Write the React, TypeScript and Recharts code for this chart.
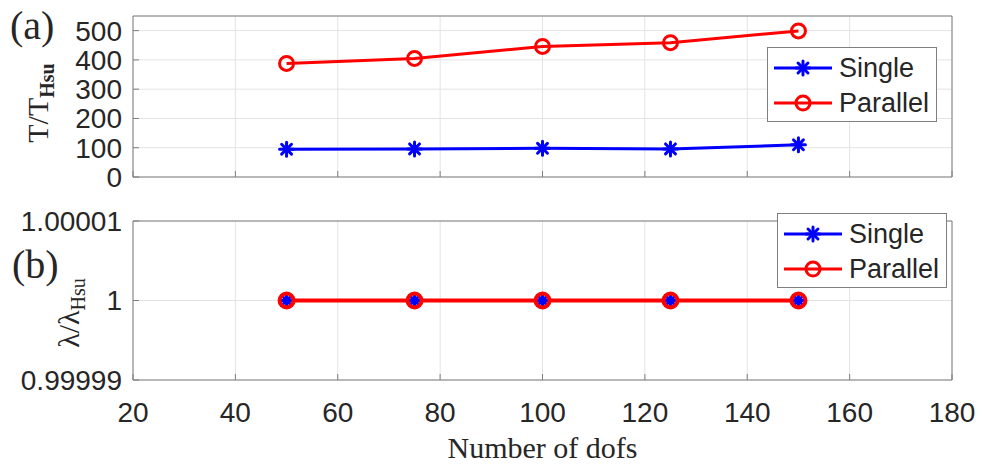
import React from 'react';
import {
  LineChart,
  Line,
  XAxis,
  YAxis,
  CartesianGrid,
  Legend,
  ReferenceArea,
} from 'recharts';

// values
const dofs = [50, 75, 100, 125, 150];
const singleTime = [95, 96, 98, 96, 110];
const parallelTime = [388, 405, 446, 459, 499];
const singleLambda = [1, 1, 1, 1, 1];
const parallelLambda = [1, 1, 1, 1, 1];

const xTicks = [20, 40, 60, 80, 100, 120, 140, 160, 180];
const timeTicks = [0, 100, 200, 300, 400, 500];
const lambdaTicks = [0.99999, 1, 1.00001];

const SANS = '"Liberation Sans", Arial, sans-serif';
const SERIF = '"Liberation Serif", "Times New Roman", serif';
const AXIS = '#7f7f7f';
const GRID = '#e3e3e3';
const TEXT = '#262626';
const BLUE = '#0000ff';
const RED = '#ff0000';

const timeData = dofs.map((d, i) => ({ dofs: d, single: singleTime[i], parallel: parallelTime[i] }));
const lambdaData = dofs.map((d, i) => ({ dofs: d, single: singleLambda[i], parallel: parallelLambda[i] }));

const Star = ({ cx, cy, r = 7, sw = 3 }: any) => {
  const d = r * 0.707;
  return (
    <g stroke={BLUE} strokeWidth={sw} strokeLinecap="round">
      <line x1={cx - r} y1={cy} x2={cx + r} y2={cy} />
      <line x1={cx} y1={cy - r} x2={cx} y2={cy + r} />
      <line x1={cx - d} y1={cy - d} x2={cx + d} y2={cy + d} />
      <line x1={cx - d} y1={cy + d} x2={cx + d} y2={cy - d} />
    </g>
  );
};

const Ring = ({ cx, cy, r = 7, sw = 3 }: any) => (
  <circle cx={cx} cy={cy} r={r} fill="none" stroke={RED} strokeWidth={sw} />
);

const LegendBox = () => (
  <svg width={170} height={75} style={{ display: 'block' }}>
    <rect x={0.5} y={0.5} width={169} height={74} fill="#fff" stroke={AXIS} />
    <line x1={7} y1={21} x2={65} y2={21} stroke={BLUE} strokeWidth={3} />
    <Star cx={36} cy={21} />
    <text x={72} y={30} fontFamily={SANS} fontSize={27} fill={TEXT}>Single</text>
    <line x1={7} y1={56} x2={65} y2={56} stroke={RED} strokeWidth={3} />
    <Ring cx={36} cy={56} />
    <text x={72} y={65} fontFamily={SANS} fontSize={27} fill={TEXT}>Parallel</text>
  </svg>
);

const tickStyle = { fill: TEXT, fontSize: 28, fontFamily: SANS };

const TimeYLabel = () => (
  <g>
    <text x={10} y={39} fontFamily={SERIF} fontSize={40} fill={TEXT}>(a)</text>
    <text
      x={48}
      y={103}
      textAnchor="middle"
      transform="rotate(-90, 48, 103)"
      fontFamily={SERIF}
      fontSize={30}
      fill={TEXT}
    >
      <tspan>T/T</tspan>
      <tspan fontSize={20} fontWeight="bold" dy={6}>Hsu</tspan>
    </text>
  </g>
);

const LambdaYLabel = () => (
  <g>
    <text x={12} y={78} fontFamily={SERIF} fontSize={40} fill={TEXT}>(b)</text>
    <text
      x={79}
      y={113}
      textAnchor="middle"
      transform="rotate(-90, 79, 113)"
      fontFamily={SERIF}
      fontSize={30}
      fill={TEXT}
    >
      <tspan>λ/λ</tspan>
      <tspan fontSize={20} dy={6}>Hsu</tspan>
    </text>
  </g>
);

const XLabel = (props: any) => {
  const vb = props.viewBox || { x: 133, y: 180, width: 819 };
  return (
    <text
      x={vb.x + vb.width / 2}
      y={vb.y + 78}
      textAnchor="middle"
      fontFamily={SERIF}
      fontSize={30}
      fill={TEXT}
    >
      Number of dofs
    </text>
  );
};

export default function App() {
  return (
    <div style={{ position: 'absolute', left: 0, top: 0, width: 983, height: 476, background: '#fff' }}>
      {/* (a) time ratio */}
      <div style={{ position: 'absolute', left: 0, top: 0 }}>
        <LineChart width={983} height={200} data={timeData} margin={{ top: 16, right: 31, bottom: 22, left: 0 }}>
          <CartesianGrid stroke={GRID} />
          <XAxis
            dataKey="dofs"
            type="number"
            domain={[20, 180]}
            ticks={xTicks}
            interval={0}
            tickFormatter={() => ''}
            height={1}
            axisLine={false}
            tickSize={-6}
            tickLine={{ stroke: AXIS }}
          />
          <YAxis
            type="number"
            domain={[0, 550]}
            ticks={timeTicks}
            interval={0}
            width={133}
            axisLine={false}
            tickSize={-6}
            tickMargin={17}
            tickLine={{ stroke: AXIS }}
            tick={tickStyle}
            label={{ content: () => <TimeYLabel /> }}
          />
          <ReferenceArea x1={20} x2={180} y1={0} y2={550} fill="none" stroke={AXIS} strokeWidth={1} />
          <Line
            dataKey="single"
            name="Single"
            stroke={BLUE}
            strokeWidth={3}
            dot={(p: any) => <Star key={`s${p.index}`} cx={p.cx} cy={p.cy} />}
            activeDot={false}
            isAnimationActive={false}
          />
          <Line
            dataKey="parallel"
            name="Parallel"
            stroke={RED}
            strokeWidth={3}
            dot={(p: any) => <Ring key={`p${p.index}`} cx={p.cx} cy={p.cy} />}
            activeDot={false}
            isAnimationActive={false}
          />
          <Legend
            layout="vertical"
            align="center"
            verticalAlign="middle"
            wrapperStyle={{ left: 767, top: 47, width: 170, height: 75 }}
            content={() => <LegendBox />}
          />
        </LineChart>
      </div>

      {/* (b) eigenvalue ratio */}
      <div style={{ position: 'absolute', left: 0, top: 200 }}>
        <LineChart width={983} height={276} data={lambdaData} margin={{ top: 21, right: 31, bottom: 0, left: 0 }}>
          <CartesianGrid stroke={GRID} />
          <XAxis
            dataKey="dofs"
            type="number"
            domain={[20, 180]}
            ticks={xTicks}
            interval={0}
            height={96}
            axisLine={false}
            tickSize={-6}
            tickMargin={28}
            tickLine={{ stroke: AXIS }}
            tick={tickStyle}
            label={{ content: (p: any) => <XLabel {...p} /> }}
          />
          <YAxis
            type="number"
            domain={[0.99999, 1.00001]}
            ticks={lambdaTicks}
            interval={0}
            tickFormatter={(v: number) => (v === 1 ? '1' : v.toFixed(5))}
            width={133}
            axisLine={false}
            tickSize={-6}
            tickMargin={17}
            tickLine={{ stroke: AXIS }}
            tick={tickStyle}
            label={{ content: () => <LambdaYLabel /> }}
          />
          <ReferenceArea x1={20} x2={180} y1={0.99999} y2={1.00001} fill="none" stroke={AXIS} strokeWidth={1} />
          <Line
            dataKey="single"
            name="Single"
            stroke={BLUE}
            strokeWidth={3}
            dot={(p: any) => <Star key={`s${p.index}`} cx={p.cx} cy={p.cy} />}
            activeDot={false}
            isAnimationActive={false}
          />
          <Line
            dataKey="parallel"
            name="Parallel"
            stroke={RED}
            strokeWidth={4}
            dot={(p: any) => <Ring key={`p${p.index}`} cx={p.cx} cy={p.cy} sw={4} />}
            activeDot={false}
            isAnimationActive={false}
          />
          <Legend
            layout="vertical"
            align="center"
            verticalAlign="middle"
            wrapperStyle={{ left: 777, top: 13, width: 170, height: 75 }}
            content={() => <LegendBox />}
          />
        </LineChart>
      </div>
    </div>
  );
}
